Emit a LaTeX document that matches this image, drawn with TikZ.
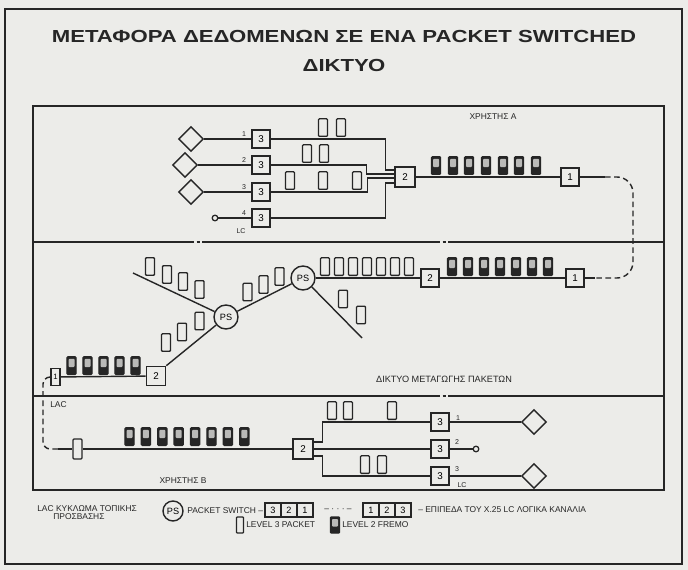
\documentclass[tikz,border=0pt]{standalone}
\usepackage{fontspec}
\setmainfont{Liberation Sans}
\newfontfamily\titlefont[FakeStretch=1.27]{Liberation Sans}
\usetikzlibrary{shapes.geometric,calc}

\definecolor{paper}{RGB}{236,236,233}
\definecolor{ink}{RGB}{38,38,38}

\tikzset{
  wire/.style={draw=ink,line width=1pt},
  lvl/.style={draw=ink,line width=1pt,fill=paper,minimum width=0.45cm,minimum height=0.45cm,inner sep=0pt,font=\fontsize{7}{7}\selectfont},
  pkt/.style={draw=ink,line width=0.9pt,fill=paper,rounded corners=0.6pt,minimum width=0.22cm,minimum height=0.44cm,inner sep=0pt},
  frm/.style={draw=ink,line width=0.9pt,fill=ink,rounded corners=0.7pt,minimum width=0.23cm,minimum height=0.44cm,inner sep=0pt,
    path picture={\fill[paper!75!ink] ([shift={(0.04cm,-0.05cm)}]path picture bounding box.north west) rectangle ([shift={(-0.04cm,-0.04cm)}]path picture bounding box.east);}},
  term/.style={diamond,draw=ink,line width=1pt,fill=paper,minimum width=0.62cm,minimum height=0.62cm,inner sep=0pt},
  ps/.style={circle,draw=ink,line width=1pt,fill=paper,minimum size=0.6cm,inner sep=0pt,font=\fontsize{6.5}{7}\selectfont},
  dot/.style={circle,draw=ink,line width=0.9pt,fill=paper,minimum size=0.14cm,inner sep=0pt},
  cell/.style={draw=ink,line width=0.9pt,minimum width=0.4cm,minimum height=0.35cm,inner sep=0pt,font=\fontsize{6.5}{7}\selectfont},
  tiny/.style={font=\fontsize{6}{7}\selectfont,text=ink,inner sep=0pt}
}

\begin{document}
\begin{tikzpicture}[x=0.025cm,y=-0.025cm]
\useasboundingbox (0,0) rectangle (688,570);
\fill[paper] (0,0) rectangle (688,570);
\draw[wire] (5,9) rectangle (682,564);
\draw[wire] (33,106) rectangle (664,490);
\draw[wire] (33,242) -- (194,242) (196.5,242) -- (199.5,242) (202,242) -- (440,242) (442.5,242) -- (445.5,242) (448,242) -- (664,242);
\draw[wire] (33,396) -- (440,396) (442.5,396) -- (445.5,396) (448,396) -- (664,396);

\node[font=\titlefont\bfseries\fontsize{12.4}{14}\selectfont,text=ink,inner sep=0pt] (title1) at (344,37) {ΜΕΤΑΦΟΡΑ ΔΕΔΟΜΕΝΩΝ ΣΕ ΕΝΑ PACKET SWITCHED};
\node[font=\titlefont\bfseries\fontsize{12.4}{14}\selectfont,text=ink,inner sep=0pt] (title2) at (344,66) {ΔΙΚΤΥΟ};

\node[tiny] (userA) at (493,117) {ΧΡΗΣΤΗΣ Α};
\node[term] (tA1) at (191,139) {};
\node[term] (tA2) at (185,165) {};
\node[term] (tA3) at (191,192) {};
\node[dot] (tA4) at (215,218) {};
\foreach \i/\y in {1/139,2/165,3/192,4/218}{
  \node[lvl] (lA\i) at (261,\y) {3};
  \node[tiny,font=\fontsize{5}{5}\selectfont,anchor=south] (nA\i) at (244,\y-2) {\i};
}
\node[tiny,font=\fontsize{5}{5}\selectfont] (lcA) at (241,231) {LC};
\draw[wire] (tA1.east) -- (lA1.west);
\draw[wire] (tA2.east) -- (lA2.west);
\draw[wire] (tA3.east) -- (lA3.west);
\draw[wire] (tA4.east) -- (lA4.west);

\node[lvl,minimum size=0.5cm] (bA2) at (405,177) {2};
\draw[wire] (lA1.east) -| ($(bA2.west)+(-9,-7)$) -- ($(bA2.west)+(0,-7)$);
\draw[wire] (lA2.east) -| ($(bA2.west)+(-28,-3)$) -- ($(bA2.west)+(0,-3)$);
\draw[wire] (lA3.east) -| ($(bA2.west)+(-27,1)$) -- ($(bA2.west)+(0,1)$);
\draw[wire] (lA4.east) -| ($(bA2.west)+(-9,6)$) -- ($(bA2.west)+(0,6)$);
\foreach \x [count=\k] in {323,341} \node[pkt,anchor=south] (pkA1\k) at (\x,137) {};
\foreach \x [count=\k] in {307,324} \node[pkt,anchor=south] (pkA2\k) at (\x,163) {};
\foreach \x [count=\k] in {290,323,357} \node[pkt,anchor=south] (pkA3\k) at (\x,190) {};

\node[lvl] (bA1) at (570,177) {1};
\draw[wire] (bA2) -- (bA1);
\foreach \x [count=\k] in {436,453,469,486,503,519,536} \node[frm,anchor=south] (frA\k) at (\x,175) {};

\coordinate (jA) at (605,177);
\coordinate (jN) at (595,278);
\node[lvl] (bN1) at (575,278) {1};
\draw[wire] (bA1) -- (jA);
\draw[wire,dash pattern=on 4pt off 2.5pt,rounded corners=0.4cm] (jA) -- (633,177) -- (633,278) -- (jN);
\draw[wire] (jN) -- (bN1);

\node[lvl] (bN2) at (430,278) {2};
\node[ps] (ps1) at (303,278) {PS};
\node[ps] (ps2) at (226,317) {PS};
\node[lvl,minimum size=0.48cm] (bW2) at (156,376) {2};
\node[lvl,minimum width=0.23cm,minimum height=0.43cm,font=\fontsize{5.5}{6}\selectfont] (bW1) at (55.5,377) {1};
\coordinate (eA) at (133,273);
\coordinate (eB) at (362,338);
\draw[wire] (ps1) -- (bN2);
\draw[wire] (bN2) -- (bN1);
\draw[wire] (ps1) -- (eB);
\draw[wire] (ps1) -- (ps2);
\draw[wire] (ps2) -- (eA);
\draw[wire] (ps2) -- (bW2.north east);
\draw[wire] (bW2) -- (bW1);
\foreach \x [count=\k] in {452,468,484,500,516,532,548} \node[frm,anchor=south] (frN\k) at (\x,276) {};
\foreach \x [count=\k] in {325,339,353,367,381,395,409} \node[pkt,anchor=south] (pkN\k) at (\x,276) {};
\foreach \x/\y [count=\k] in {343/299,361/315} \node[pkt] (pkE\k) at (\x,\y) {};
\foreach \x/\y [count=\k] in {247.5/292,263.5/284.5,279.5/276.5} \node[pkt] (pkM\k) at (\x,\y) {};
\foreach \x/\y [count=\k] in {150/266.5,167/274.5,183/281.5,199.5/289.5} \node[pkt] (pkW\k) at (\x,\y) {};
\foreach \x/\y [count=\k] in {166/342.5,182/332,199.5/321} \node[pkt] (pkS\k) at (\x,\y) {};
\foreach \x [count=\k] in {71.5,87.5,103.5,119.5,135.5} \node[frm,anchor=south] (frW\k) at (\x,375) {};
\node[tiny,font=\fontsize{6.5}{7}\selectfont] (net) at (444,379) {ΔΙΚΤΥΟ ΜΕΤΑΓΩΓΗΣ ΠΑΚΕΤΩΝ};

\coordinate (jB) at (58,449);
\draw[wire,dash pattern=on 4pt off 2.5pt,rounded corners=0.18cm] (bW1.west) -- (43,377) -- (43,449) -- (jB);
\node[tiny,anchor=west] (lac) at (50,405) {LAC};
\node[pkt,minimum height=0.5cm] (qB) at (77.5,449) {};
\node[lvl,minimum size=0.5cm] (bB2) at (303,449) {2};
\draw[wire] (jB) -- (qB);
\draw[wire] (qB) -- (bB2);
\foreach \x [count=\k] in {129.5,145.9,162.3,178.7,195.1,211.5,227.9,244.3} \node[frm,anchor=south] (frB\k) at (\x,446) {};
\node[tiny] (userB) at (183,481) {ΧΡΗΣΤΗΣ Β};

\foreach \i/\y in {1/422,2/449,3/476} \node[lvl] (cB\i) at (440,\y) {3};
\draw[wire] ($(bB2.east)+(0,-7)$) -- ++(9,0) |- (cB1.west);
\draw[wire] (bB2) -- (cB2);
\draw[wire] ($(bB2.east)+(0,7)$) -- ++(9,0) |- (cB3.west);
\foreach \x [count=\k] in {332,348,392} \node[pkt,anchor=south] (pkB1\k) at (\x,420) {};
\foreach \x [count=\k] in {365,382} \node[pkt,anchor=south] (pkB3\k) at (\x,474) {};
\node[term] (tB1) at (534,422) {};
\node[dot] (tB2) at (476,449) {};
\node[term] (tB3) at (534,476) {};
\draw[wire] (cB1) -- (tB1);
\draw[wire] (cB2) -- (tB2);
\draw[wire] (cB3) -- (tB3);
\node[tiny,font=\fontsize{5}{5}\selectfont] (nB1) at (458,418) {1};
\node[tiny,font=\fontsize{5}{5}\selectfont] (nB2) at (457,442) {2};
\node[tiny,font=\fontsize{5}{5}\selectfont] (nB3) at (457,469) {3};
\node[tiny,font=\fontsize{5}{5}\selectfont] (lcB) at (462,485) {LC};

\node[tiny,anchor=west] (key1) at (37,509) {LAC ΚΥΚΛΩΜΑ ΤΟΠΙΚΗΣ};
\node[tiny,anchor=west] (key2) at (53,517) {ΠΡΟΣΒΑΣΗΣ};
\node[ps,minimum size=0.5cm] (psK) at (173,511) {PS};
\node[tiny,anchor=west] (key3) at (187,511) {PACKET SWITCH –};
\foreach \d [count=\k] in {3,2,1} \node[cell] (kL\k) at (257+16*\k,510) {\d};
\node[tiny] (key4) at (338,510) {– · · · –};
\foreach \d [count=\k] in {1,2,3} \node[cell] (kR\k) at (355+16*\k,510) {\d};
\node[tiny,anchor=west] (key5) at (418,510) {– ΕΠΙΠΕΔΑ ΤΟΥ X.25 LC ΛΟΓΙΚΑ ΚΑΝΑΛΙΑ};
\node[pkt,minimum width=0.18cm,minimum height=0.4cm] (pkK) at (240,525) {};
\node[tiny,anchor=west] (key6) at (246,525) {LEVEL 3 PACKET};
\node[frm,minimum height=0.4cm] (frK) at (335,525) {};
\node[tiny,anchor=west] (key7) at (342,525) {LEVEL 2 FREMO};
\end{tikzpicture}
\end{document}
